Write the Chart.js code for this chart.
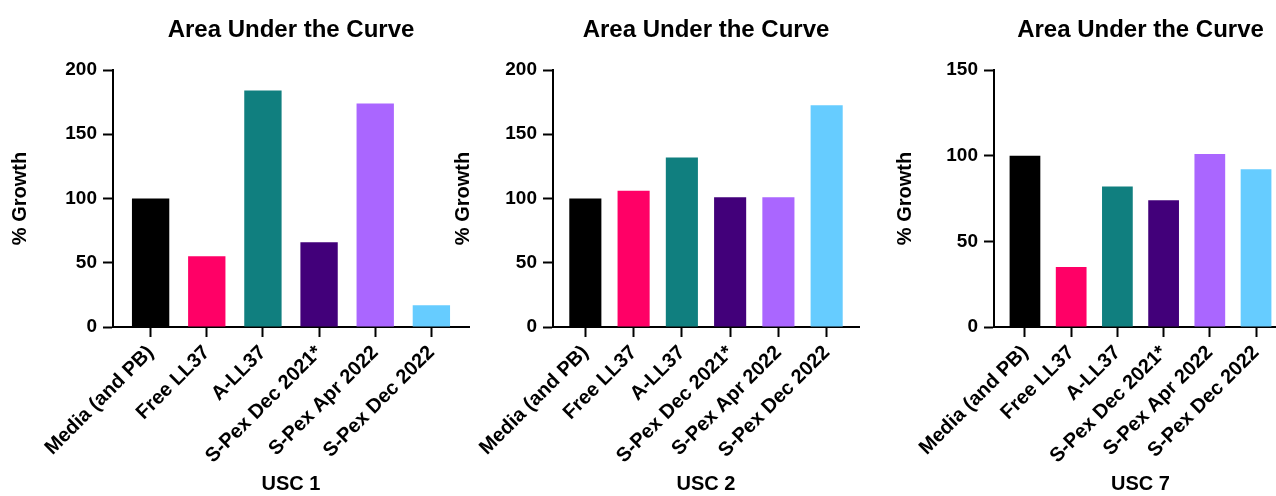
<!DOCTYPE html>
<html>
<head>
<meta charset="utf-8">
<script src="https://cdn.jsdelivr.net/npm/chart.js@4/dist/chart.umd.min.js"></script>
<style>
  html, body { margin: 0; padding: 0; background: #fff; overflow: hidden; }
  body { width: 1276px; height: 496px; position: relative; }
  canvas { position: absolute; top: 0; }
</style>
</head>
<body>
<canvas id="c1"></canvas>
<canvas id="c2"></canvas>
<canvas id="c3"></canvas>
<script>
// Treatment groups shared by all three strains
const categories = ['Media (and PB)', 'Free LL37', 'A-LL37', 'S-Pex Dec 2021*', 'S-Pex Apr 2022', 'S-Pex Dec 2022'];

// Area under the growth curve, % of media control
const usc1Values = [100, 55, 184, 66, 174, 17];
const usc2Values = [100, 106, 132, 101, 101, 172.5];
const usc7Values = [100, 35, 82, 74, 101, 92];

// Y tick values per panel
const usc1Ticks = [0, 50, 100, 150, 200];
const usc2Ticks = [0, 50, 100, 150, 200];
const usc7Ticks = [0, 50, 100, 150];

const strainNames = ['USC 1', 'USC 2', 'USC 7'];
const chartTitle = 'Area Under the Curve';
const yTitle = '% Growth';

const barColors = ['#000000', '#FF0066', '#107F7F', '#42007A', '#AA66FF', '#66CCFF'];

const FONT = '"Liberation Sans", Arial, Helvetica, sans-serif';
Chart.defaults.font.family = FONT;
Chart.defaults.color = '#000';

// Title centred over the plotting area
const centeredTitle = {
  id: 'centeredTitle',
  afterDraw(chart, args, opts) {
    const { ctx, chartArea } = chart;
    ctx.save();
    ctx.font = 'bold 24px ' + FONT;
    ctx.fillStyle = '#000';
    ctx.textAlign = 'center';
    ctx.textBaseline = 'alphabetic';
    ctx.fillText(opts.text, (chartArea.left + chartArea.right) / 2, opts.baseline);
    ctx.restore();
  }
};

function makePanel(id, layout, strain, values, yTicks) {
  const canvas = document.getElementById(id);
  canvas.width = layout.width;
  canvas.height = 496;
  canvas.style.left = layout.left + 'px';

  const points = values.map((v, i) => ({ x: i, y: v }));

  return new Chart(canvas, {
    type: 'bar',
    data: {
      datasets: [{
        data: points,
        backgroundColor: barColors,
        borderWidth: 0,
        barPercentage: 0.665,
        categoryPercentage: 1
      }]
    },
    plugins: [centeredTitle],
    options: {
      responsive: false,
      animation: false,
      events: [],
      layout: { padding: { top: 70, right: layout.padRight, bottom: 0, left: 0 } },
      plugins: {
        legend: { display: false },
        tooltip: { enabled: false },
        title: { display: false },
        centeredTitle: { text: chartTitle, baseline: 37 }
      },
      scales: {
        x: {
          type: 'linear',
          offset: false,
          min: -0.67,
          max: categories.length - 1 + 0.67,
          afterBuildTicks(scale) {
            scale.ticks = categories.map((_, i) => ({ value: i }));
          },
          afterFit(scale) { scale.height = 169; },
          ticks: {
            autoSkip: false,
            minRotation: 45,
            maxRotation: 45,
            padding: 4,
            font: { size: 20, weight: 'bold' },
            callback: (v) => categories[v]
          },
          grid: {
            display: true,
            offset: false,
            drawOnChartArea: false,
            drawTicks: true,
            tickLength: 10,
            tickWidth: 2,
            tickColor: '#000'
          },
          border: { display: true, color: '#000', width: 2 },
          title: {
            display: true,
            text: strain,
            font: { size: 20, weight: 'bold' },
            padding: { top: 0, bottom: 0 }
          }
        },
        y: {
          min: yTicks[0],
          max: yTicks[yTicks.length - 1],
          afterBuildTicks(scale) {
            scale.ticks = yTicks.map(v => ({ value: v }));
          },
          afterFit(scale) { scale.width = layout.yWidth; },
          ticks: {
            padding: 6,
            font: { size: 19, weight: 'bold' }
          },
          grid: {
            display: true,
            drawOnChartArea: false,
            drawTicks: true,
            tickLength: 10,
            tickWidth: 2,
            tickColor: '#000'
          },
          border: { display: true, color: '#000', width: 2 },
          title: {
            display: true,
            text: yTitle,
            font: { size: 20, weight: 'bold' },
            padding: { top: layout.yTitlePad, bottom: 0 }
          }
        }
      }
    }
  });
}

makePanel('c1', { left: 0, width: 480, padRight: 11, yWidth: 113, yTitlePad: 8.5 }, strainNames[0], usc1Values, usc1Ticks);
makePanel('c2', { left: 440, width: 430, padRight: 11, yWidth: 113, yTitlePad: 11.3 }, strainNames[1], usc2Values, usc2Ticks);
makePanel('c3', { left: 880, width: 420, padRight: 13, yWidth: 114, yTitlePad: 13.7 }, strainNames[2], usc7Values, usc7Ticks);
</script>
</body>
</html>
